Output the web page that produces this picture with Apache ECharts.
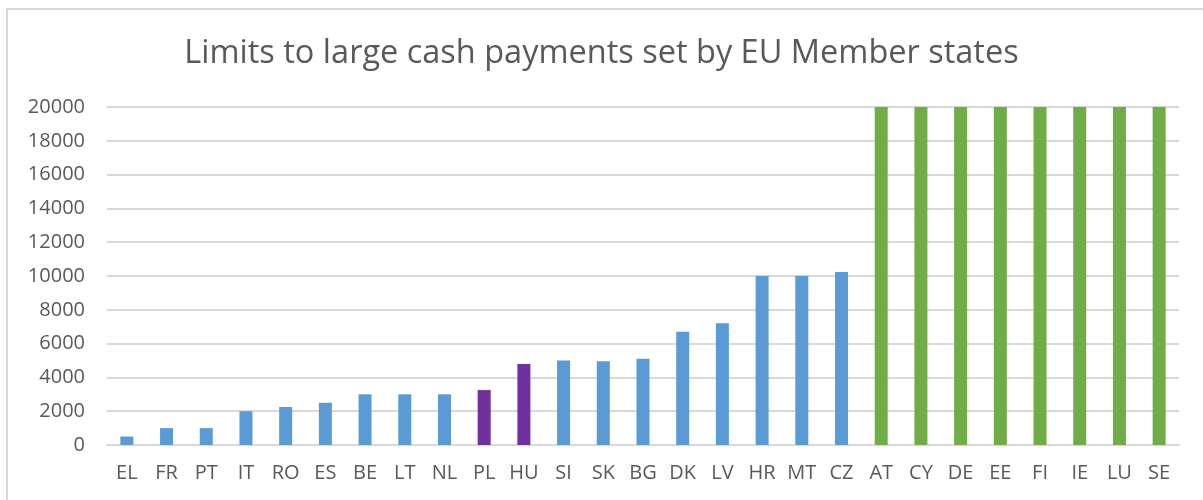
<!DOCTYPE html>
<html>
<head>
<meta charset="utf-8">
<script src="https://cdn.jsdelivr.net/npm/echarts@6/dist/echarts.min.js"></script>
<style>
    html, body { margin: 0; padding: 0; background: #fff; overflow: hidden; }
    #frame { position: absolute; left: 6px; top: 8px; width: 1260px; height: 560px; border: 2px solid #d9d9d9; box-sizing: border-box; }
    #chart { position: absolute; left: 0; top: 0; width: 1203px; height: 500px; }
</style>
</head>
<body>
<div id="frame"></div>
<div id="chart"></div>
<script>
var countries = ['EL', 'FR', 'PT', 'IT', 'RO', 'ES', 'BE', 'LT', 'NL', 'PL', 'HU', 'SI', 'SK', 'BG',
    'DK', 'LV', 'HR', 'MT', 'CZ', 'AT', 'CY', 'DE', 'EE', 'FI', 'IE', 'LU', 'SE'];
var limits = [500, 1000, 1000, 2000, 2250, 2500, 3000, 3000, 3000, 3250, 4800, 5000, 4950, 5100,
    6700, 7200, 10000, 10000, 10230, 20000, 20000, 20000, 20000, 20000, 20000, 20000, 20000];
// highlighted member states and those without a limit (shown at the axis top)
var highlighted = ['PL', 'HU'];
var noLimit = ['AT', 'CY', 'DE', 'EE', 'FI', 'IE', 'LU', 'SE'];
var yTicks = [0, 2000, 4000, 6000, 8000, 10000, 12000, 14000, 16000, 18000, 20000];

var chart = echarts.init(document.getElementById('chart'));

var barData = limits.map(function(v, i) {
    var c = '#5b9bd5';
    if (highlighted.indexOf(countries[i]) >= 0) c = '#7030a0';
    if (noLimit.indexOf(countries[i]) >= 0) c = '#70ad47';
    return { value: v, itemStyle: { color: c } };
});

var option = {
    backgroundColor: 'transparent',
    animation: false,
    title: {
        text: 'Limits to large cash payments set by EU Member states',
        left: 'center',
        top: 32,
        textStyle: {
            color: '#595959',
            fontFamily: 'Open Sans',
            fontWeight: 'normal',
            fontSize: 32.5
        }
    },
    grid: {
        left: 107,
        right: 24,
        top: 107,
        bottom: 55
    },
    xAxis: {
        type: 'category',
        data: countries,
        axisTick: { show: false },
        axisLine: {
            lineStyle: { color: '#d9d9d9', width: 2 }
        },
        axisLabel: {
            color: '#595959',
            fontFamily: 'Open Sans',
            fontSize: 20,
            margin: 18,
            interval: 0
        }
    },
    yAxis: {
        type: 'value',
        min: yTicks[0],
        max: yTicks[yTicks.length - 1],
        interval: yTicks[1] - yTicks[0],
        axisLine: { show: false },
        axisTick: { show: false },
        axisLabel: {
            color: '#595959',
            fontFamily: 'Open Sans',
            fontSize: 20,
            margin: 22,
            formatter: function(v) {
                return String(v);
            }
        },
        splitLine: {
            lineStyle: { color: '#d9d9d9', width: 2 }
        }
    },
    series: [
        {
            name: 'Limit',
            type: 'bar',
            barWidth: 13,
            data: barData
        }
    ]
};

chart.setOption(option);
</script>
</body>
</html>
